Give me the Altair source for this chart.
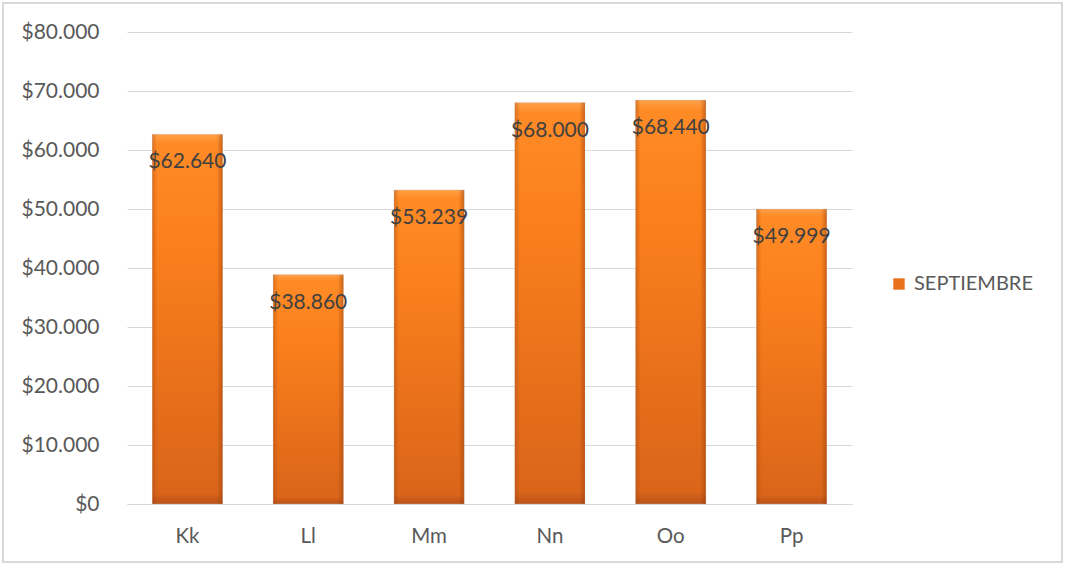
import altair as alt
import pandas as pd

# Sales per product for September
products = ["Kk", "Ll", "Mm", "Nn", "Oo", "Pp"]
september = [62640, 38860, 53239, 68000, 68440, 49999]
series_name = "SEPTIEMBRE"
y_ticks = [0, 10000, 20000, 30000, 40000, 50000, 60000, 70000, 80000]

df = pd.DataFrame({"producto": products, "valor": september, "serie": series_name})

FONT = "Lato"
money = "replace(format({v}, '$,.0f'), ',', '.')"

x_enc = alt.X(
    "producto:N",
    sort=products,
    title=None,
    scale=alt.Scale(paddingInner=0.42, paddingOuter=0.21),
    axis=alt.Axis(
        labelAngle=0, ticks=False, domainColor="#D9D9D9", domainWidth=1,
        labelFont=FONT, labelFontSize=20.5, labelColor="#595959", labelPadding=22,
    ),
)
y_enc = alt.Y(
    "valor:Q",
    title=None,
    scale=alt.Scale(domain=[0, 80000], nice=False),
    axis=alt.Axis(
        values=y_ticks, ticks=False, domain=False, gridColor="#D9D9D9", gridWidth=1,
        labelFont=FONT, labelFontSize=21, labelColor="#595959", labelPadding=28,
        labelExpr=money.format(v="datum.value"),
    ),
)

base = alt.Chart(df)

# solid bars carry the legend entry
bars = base.mark_bar().encode(
    x=x_enc,
    y=y_enc,
    color=alt.Color(
        "serie:N",
        scale=alt.Scale(range=["#E8721C"]),
        legend=alt.Legend(
            title=None, orient="none", legendX=762, legendY=242,
            symbolType="square", symbolSize=130, symbolStrokeWidth=0,
            labelFont=FONT, labelFontSize=20, labelColor="#595959", labelOffset=5,
        ),
    ),
)

# vertical shading over the bars
shade_v = base.mark_bar(
    color=alt.Gradient(
        gradient="linear", x1=0, x2=0, y1=0, y2=1,
        stops=[
            alt.GradientStop(offset=0, color="#FFA048"),
            alt.GradientStop(offset=0.025, color="#FF8B26"),
            alt.GradientStop(offset=0.3, color="#FB7F1C"),
            alt.GradientStop(offset=0.97, color="#DA651A"),
            alt.GradientStop(offset=1, color="#B9521A"),
        ],
    ),
    stroke="#C8C8C8", strokeWidth=0.6, strokeOpacity=0.6,
).encode(x=x_enc, y=y_enc)

# darker bevelled side edges
shade_h = base.mark_bar(
    color=alt.Gradient(
        gradient="linear", x1=0, x2=1, y1=0, y2=0,
        stops=[
            alt.GradientStop(offset=0, color="rgba(150,60,10,0.35)"),
            alt.GradientStop(offset=0.07, color="rgba(150,60,10,0)"),
            alt.GradientStop(offset=0.92, color="rgba(150,60,10,0)"),
            alt.GradientStop(offset=1, color="rgba(150,60,10,0.5)"),
        ],
    ),
).encode(x=x_enc, y=y_enc)

labels = base.mark_text(
    font=FONT, fontSize=21, color="#404040", baseline="middle", dy=28,
).transform_calculate(
    etiqueta=money.format(v="datum.valor")
).encode(x=x_enc, y=y_enc, text="etiqueta:N")

# thin frame around the whole chart
frame = alt.Chart(df).mark_rect(
    fill="transparent", stroke="#D9D9D9", strokeWidth=1.5, clip=False,
).encode(
    x=alt.value(-124), x2=alt.value(935), y=alt.value(-29), y2=alt.value(530),
)

chart = alt.layer(frame, bars, shade_v, shade_h, labels).properties(
    width=725,
    height=472,
    padding={"left": 127, "top": 32, "right": 213, "bottom": 62},
    autosize=alt.AutoSizeParams(type="none"),
    background="white",
).configure_view(stroke=None)

chart.save("out.html", embed_options={"renderer": "svg", "actions": False})
